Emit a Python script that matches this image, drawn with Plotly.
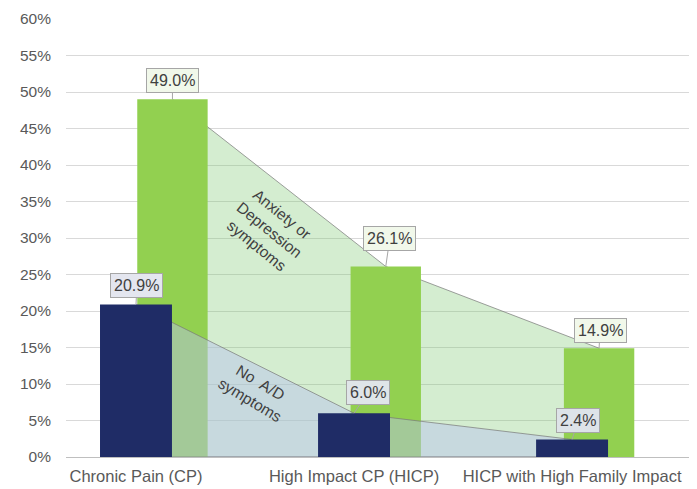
import plotly.graph_objects as go

categories = ["Chronic Pain (CP)", "High Impact CP (HICP)", "HICP with High Family Impact"]
no_ad = [20.9, 6.0, 2.4]
ad = [49.0, 26.1, 14.9]

NAVY = "#1f2c66"
GREEN = "#92d050"
BAR_W = 0.33

idx = list(range(len(categories)))

# navy series uses the primary category axis, green series its own (secondary) one
XR_NAVY = [-0.321, 2.573]
XR_GREEN = [-0.499, 2.459]
YR = [0, 60]

fig = go.Figure()

# L1 (x): axis with ticks only
# L2 (x2, green scale): green area
poly_gx = idx + [idx[-1], idx[0]]
poly_gy = ad + [0, 0]
fig.add_trace(go.Scatter(x=poly_gx, y=poly_gy, fill="toself", mode="lines",
                         fillcolor="rgba(120,200,110,0.32)",
                         line=dict(color="rgba(120,120,120,0.7)", width=1),
                         hoverinfo="skip", showlegend=False, xaxis="x2", yaxis="y2"))
# L3 (x3, green scale): green bars
fig.add_trace(go.Bar(x=idx, y=ad, width=BAR_W, marker=dict(color=GREEN, line=dict(width=0)),
                     showlegend=False, xaxis="x3", yaxis="y3"))
# L4 (x4, navy scale): blue area
poly_bx = idx + [idx[-1], idx[0]]
poly_by = no_ad + [0, 0]
fig.add_trace(go.Scatter(x=poly_bx, y=poly_by, fill="toself", mode="lines",
                         fillcolor="rgba(185,192,240,0.45)",
                         line=dict(color="rgba(120,120,120,0.7)", width=1),
                         hoverinfo="skip", showlegend=False, xaxis="x4", yaxis="y4"))
# L5 (x5, navy scale): navy bars
fig.add_trace(go.Bar(x=idx, y=no_ad, width=BAR_W, marker=dict(color=NAVY, line=dict(width=0)),
                     showlegend=False, xaxis="x5", yaxis="y5"))

# data labels
lab_font = dict(family="Liberation Sans, Arial, sans-serif", size=16, color="#404040")
green_bg = "#f1f8ea"
label_specs = [
    ("x2", 0, ad[0], 0, -19, green_bg),
    ("x4", 0, no_ad[0], 1, -19, "#e4e6ef"),
    ("x2", 1, ad[1], 4, -28, green_bg),
    ("x4", 1, no_ad[1], 14, -21, "#dfe5e8"),
    ("x2", 2, ad[2], 1, -18, green_bg),
    ("x4", 2, no_ad[2], 6, -19, "#dde3e8"),
]
for xr, xv, yv, ax, ay, bg in label_specs:
    fig.add_annotation(x=xv, y=yv, xref=xr, yref="y", text=f"{yv:.1f}%",
                       showarrow=True, arrowhead=0, arrowwidth=1, arrowcolor="#a6a6a6",
                       ax=ax, ay=ay, bgcolor=bg, bordercolor="#a6a6a6", borderwidth=1,
                       borderpad=3, font=lab_font)

txt_font = dict(family="Liberation Sans, Arial, sans-serif", size=15.5, color="#404040")
fig.add_annotation(x=0.61, y=31.1, xref="x", yref="y", text="Anxiety or<br>Depression<br>symptoms",
                   showarrow=False, textangle=39, font=txt_font, align="center")
fig.add_annotation(x=0.55, y=9.0, xref="x", yref="y", text="No  A/D<br>symptoms",
                   showarrow=False, textangle=31, font=txt_font, align="center")

xtick_font = dict(family="Liberation Sans, Arial, sans-serif", size=16.5, color="#595959")
ytick_font = dict(family="Liberation Sans, Arial, sans-serif", size=15.5, color="#595959")
hidden = lambda r: dict(range=r, overlaying="x", visible=False)
hidden_y = dict(range=YR, overlaying="y", visible=False)
fig.update_layout(
    width=689, height=481,
    margin=dict(l=58, r=0, t=11, b=32),
    paper_bgcolor="white", plot_bgcolor="white",
    barmode="overlay",
    showlegend=False,
    xaxis=dict(range=XR_NAVY, tickvals=idx, ticktext=categories, tickfont=xtick_font,
               showgrid=False, zeroline=False, showline=True, linecolor="#bfbfbf", linewidth=1,
               ticks="", ticklabelstandoff=4, automargin=False),
    yaxis=dict(range=YR, dtick=5, ticksuffix="%", tickfont=ytick_font,
               showgrid=True, gridcolor="#d9d9d9", gridwidth=1, zeroline=False,
               showline=False, ticks="", ticklabelstandoff=14, automargin=False),
    xaxis2=hidden(XR_GREEN), yaxis2=hidden_y,
    xaxis3=hidden(XR_GREEN), yaxis3=hidden_y,
    xaxis4=hidden(XR_NAVY), yaxis4=hidden_y,
    xaxis5=hidden(XR_NAVY), yaxis5=hidden_y,
)

fig.write_html("out.html")
